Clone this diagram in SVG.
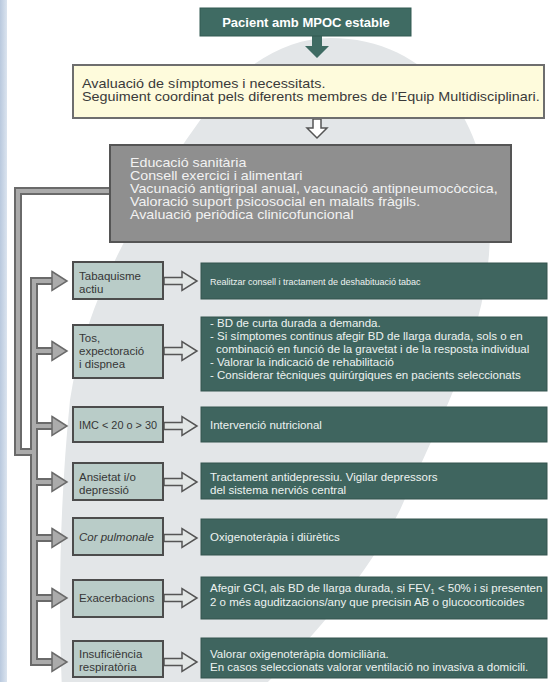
<svg xmlns="http://www.w3.org/2000/svg" width="554" height="682" viewBox="0 0 554 682">
<defs>
<linearGradient id="strip" x1="0" y1="0" x2="1" y2="0">
<stop offset="0" stop-color="#b9c9de"/>
<stop offset="1" stop-color="#dbe4ef"/>
</linearGradient>
<style>
.t{font-family:"Liberation Sans",Arial,sans-serif}
.head{font-size:13px;font-weight:bold;fill:#ffffff}
.yel{font-size:12.5px;fill:#3a3a3a}
.gry{font-size:12.5px;fill:#f2f2f2}
.lt{font-size:11.5px;fill:#363636}
.rt{font-size:11.5px;fill:#eef3f1}
.lbox{fill:#b9ccc8;stroke:#4c4c4c;stroke-width:2}
.rbox{fill:#3f655f;stroke:#34544f;stroke-width:1}
.harr{fill:#e2e6e5;stroke:#555;stroke-width:1.5;stroke-linejoin:miter}
.pipeo{fill:none;stroke:#6a6a6a;stroke-width:8;stroke-linejoin:miter}
.pipei{fill:none;stroke:#ababab;stroke-width:4;stroke-linejoin:miter}
.bhead{fill:#ababab;stroke:#6a6a6a;stroke-width:1.5}
</style>
</defs>
<rect x="0" y="0" width="554" height="682" fill="#ffffff"/>
<rect x="0" y="0" width="7" height="682" fill="url(#strip)"/>
<path d="M 330 38 C 430 38 490 120 490 230 C 490 330 440 420 400 510 C 365 580 310 640 260 690 L 62 690 C 58 600 60 500 70 400 C 85 300 140 200 215 100 C 250 60 290 38 330 38 Z" fill="#e3e6e8"/>

<g id="connectors">
<polygon points="312,36 322,36 322,46 329,46 317,58 305,46 312,46" fill="#3f6b63"/>
<polygon class="harr" points="313,119 321,119 321,128 327,128 317,138 307,128 313,128" style="fill:#ffffff"/>
<g>
<path class="pipeo" d="M 110 191 H 18 V 452 H 34 M 34 277 V 666 M 34 281 H 54 M 34 351 H 54 M 34 426 H 54 M 34 482 H 54 M 34 538 H 54 M 34 598 H 54 M 34 662 H 54"/>
<path class="pipei" d="M 110 191 H 18 V 452 H 34 M 34 279 V 664 M 34 281 H 55 M 34 351 H 55 M 34 426 H 55 M 34 482 H 55 M 34 538 H 55 M 34 598 H 55 M 34 662 H 55"/>
<polygon class="bhead" points="52,271.5 67,281 52,290.5"/>
<polygon class="bhead" points="52,341.5 67,351 52,360.5"/>
<polygon class="bhead" points="52,416.5 67,426 52,435.5"/>
<polygon class="bhead" points="52,472.5 67,482 52,491.5"/>
<polygon class="bhead" points="52,528.5 67,538 52,547.5"/>
<polygon class="bhead" points="52,588.5 67,598 52,607.5"/>
<polygon class="bhead" points="52,652.5 67,662 52,671.5"/>
</g>
<polygon class="harr" points="164,277.5 182,277.5 182,271.5 197,281 182,290.5 182,284.5 164,284.5"/>
<polygon class="harr" points="164,347.5 182,347.5 182,341.5 197,351 182,360.5 182,354.5 164,354.5"/>
<polygon class="harr" points="164,422.5 182,422.5 182,416.5 197,426 182,435.5 182,429.5 164,429.5"/>
<polygon class="harr" points="164,478.5 182,478.5 182,472.5 197,482 182,491.5 182,485.5 164,485.5"/>
<polygon class="harr" points="164,534.5 182,534.5 182,528.5 197,538 182,547.5 182,541.5 164,541.5"/>
<polygon class="harr" points="164,594.5 182,594.5 182,588.5 197,598 182,607.5 182,601.5 164,601.5"/>
<polygon class="harr" points="164,658.5 182,658.5 182,652.5 197,662 182,671.5 182,665.5 164,665.5"/>
</g>

<g id="start">
<rect x="200" y="8" width="211" height="28" fill="#3f6b63" stroke="#335a53" stroke-width="1"/>
<text class="t head" x="306" y="27" text-anchor="middle">Pacient amb MPOC estable</text>
</g>

<g id="avaluacio">
<rect x="73" y="65" width="471" height="53" fill="#fefbdc" stroke="#6e6e6e" stroke-width="2"/>
<g transform="matrix(1.15 0 0 1 -12.3 0)">
<text class="t yel" x="82" y="88">Avaluació de símptomes i necessitats.</text>
<text class="t yel" x="82" y="101">Seguiment coordinat pels diferents membres de l’Equip Multidisciplinari.</text>
</g>
</g>

<g id="mesures">
<rect x="110" y="145" width="401" height="97" fill="#8f8f8f" stroke="#555555" stroke-width="2"/>
<g transform="matrix(1.14 0 0 1 -18.2 0)">
<text class="t gry" x="130" y="167">Educació sanitària</text>
<text class="t gry" x="130" y="180">Consell exercici  i alimentari</text>
<text class="t gry" x="130" y="193">Vacunació antigripal anual, vacunació antipneumocòccica,</text>
<text class="t gry" x="130" y="206">Valoració suport psicosocial en malalts fràgils.</text>
<text class="t gry" x="130" y="219">Avaluació periòdica clinicofuncional</text>
</g>
</g>

<g id="tabaquisme">
<rect class="lbox" x="73" y="262" width="90" height="37"/>
<text class="t lt" x="79" y="280">Tabaquisme</text>
<text class="t lt" x="79" y="293">actiu</text>
</g>
<g id="tabaquisme-accio">
<rect class="rbox" x="201" y="263" width="346" height="36"/>
<text class="t rt" x="210" y="285" style="font-size:9px">Realitzar consell i tractament de deshabituació tabac</text>
</g>

<g id="tos">
<rect class="lbox" x="73" y="325" width="90" height="53"/>
<text class="t lt" x="79" y="342">Tos,</text>
<text class="t lt" x="79" y="355">expectoració</text>
<text class="t lt" x="79" y="368">i dispnea</text>
</g>
<g id="tos-accio">
<rect class="rbox" x="201" y="317" width="346" height="74"/>
<text class="t rt" x="210" y="327">- BD de curta durada a demanda.</text>
<text class="t rt" x="210" y="340">- Si símptomes continus afegir BD de llarga durada, sols o en</text>
<text class="t rt" x="216" y="353">combinació en funció de la gravetat i de la resposta individual</text>
<text class="t rt" x="210" y="366">- Valorar la indicació de rehabilitació</text>
<text class="t rt" x="210" y="379">- Considerar tècniques quirúrgiques en pacients seleccionats</text>
</g>

<g id="imc">
<rect class="lbox" x="73" y="407" width="90" height="35"/>
<text class="t lt" x="79" y="429" textLength="78" lengthAdjust="spacingAndGlyphs">IMC &lt; 20 o &gt; 30</text>
</g>
<g id="imc-accio">
<rect class="rbox" x="201" y="407" width="346" height="35"/>
<text class="t rt" x="210" y="429">Intervenció nutricional</text>
</g>

<g id="ansietat">
<rect class="lbox" x="73" y="463" width="90" height="37"/>
<text class="t lt" x="79" y="481">Ansietat i/o</text>
<text class="t lt" x="79" y="494">depressió</text>
</g>
<g id="ansietat-accio">
<rect class="rbox" x="201" y="463" width="346" height="36"/>
<text class="t rt" x="210" y="481">Tractament antidepressiu. Vigilar depressors</text>
<text class="t rt" x="210" y="494">del sistema nerviós central</text>
</g>

<g id="cor">
<rect class="lbox" x="73" y="518" width="90" height="37"/>
<text class="t lt" x="79" y="541" font-style="italic">Cor pulmonale</text>
</g>
<g id="cor-accio">
<rect class="rbox" x="201" y="519" width="346" height="36"/>
<text class="t rt" x="210" y="541">Oxigenoteràpia i diürètics</text>
</g>

<g id="exacerbacions">
<rect class="lbox" x="73" y="580" width="90" height="37"/>
<text class="t lt" x="79" y="602">Exacerbacions</text>
</g>
<g id="exacerbacions-accio">
<rect class="rbox" x="201" y="577" width="346" height="42"/>
<text class="t rt" x="210" y="592">Afegir GCI, als BD de llarga durada, si FEV<tspan font-size="7.5" dy="1.5">1</tspan><tspan dy="-1.5"> &lt; 50% i  si presenten</tspan></text>
<text class="t rt" x="210" y="606">2 o més aguditzacions/any que precisin AB o glucocorticoides</text>
</g>

<g id="insuficiencia">
<rect class="lbox" x="73" y="641" width="90" height="36"/>
<text class="t lt" x="79" y="658">Insuficiència</text>
<text class="t lt" x="79" y="671">respiratòria</text>
</g>
<g id="insuficiencia-accio">
<rect class="rbox" x="201" y="638" width="346" height="40"/>
<text class="t rt" x="210" y="658">Valorar oxigenoteràpia domiciliària.</text>
<text class="t rt" x="210" y="671">En casos seleccionats valorar ventilació no invasiva a domicili.</text>
</g>
</svg>
